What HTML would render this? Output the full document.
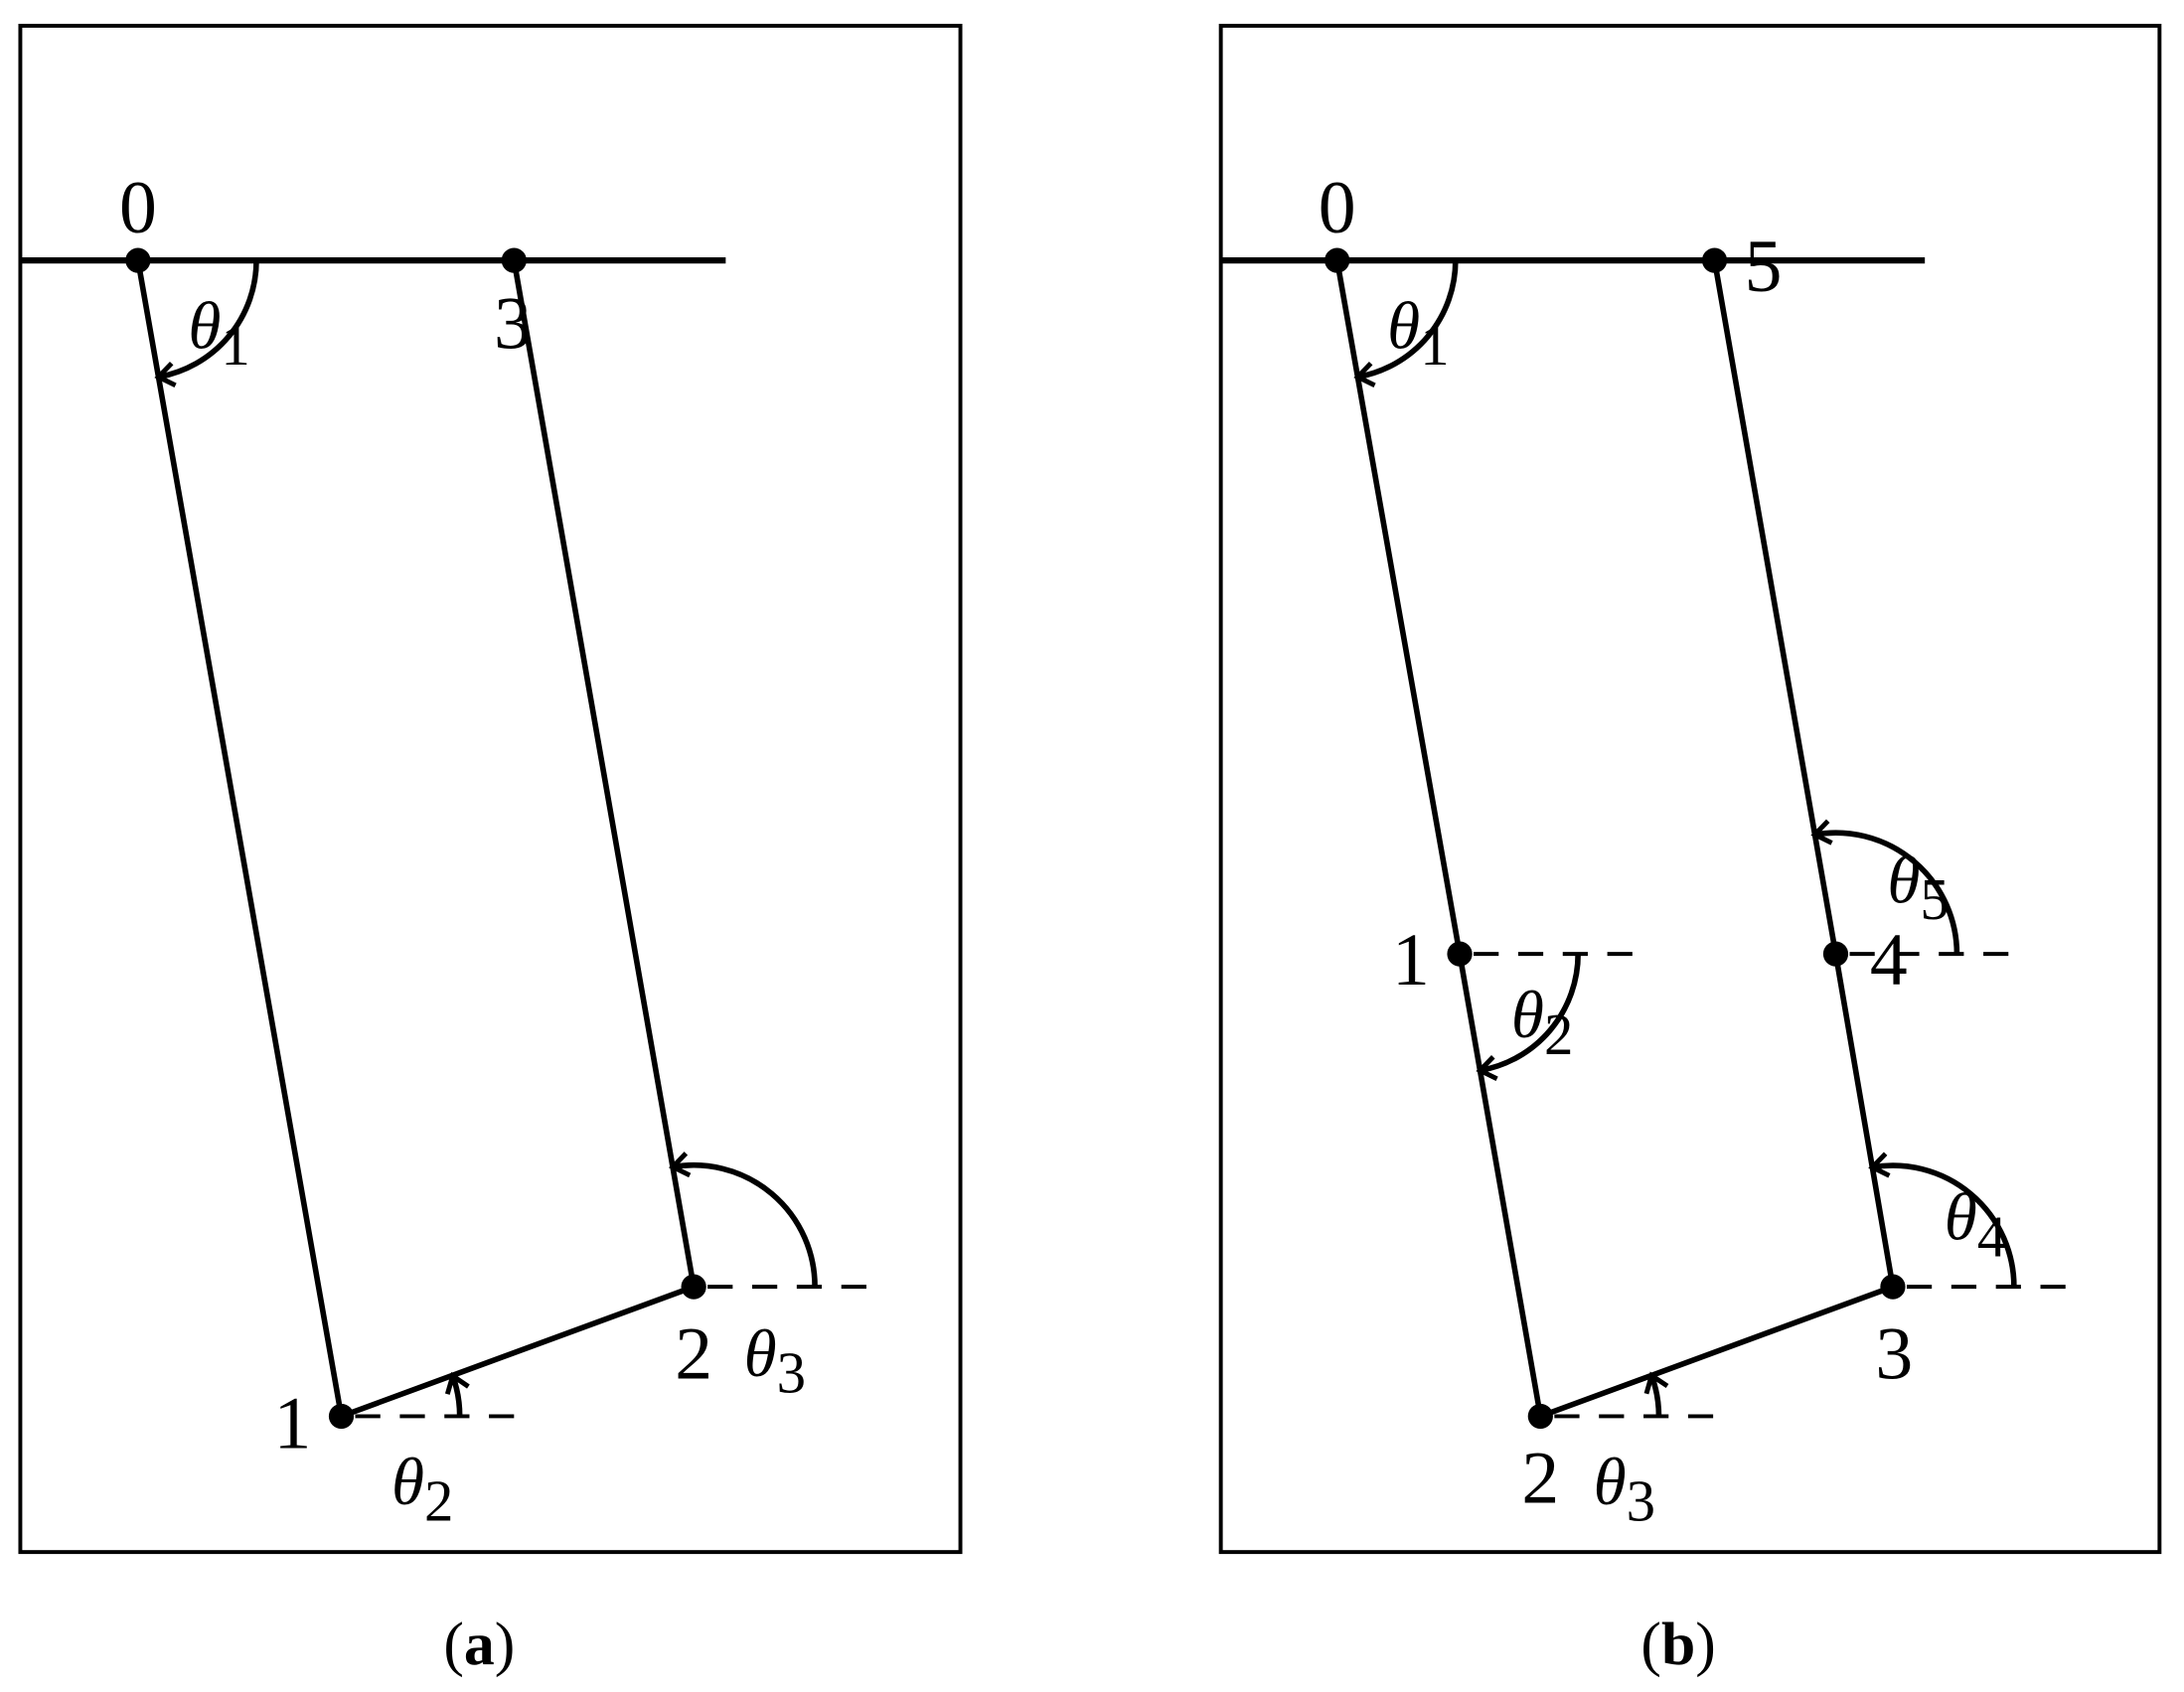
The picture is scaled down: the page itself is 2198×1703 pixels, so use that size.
<!DOCTYPE html>
<html><head><meta charset="utf-8"><style>html,body{margin:0;padding:0;background:#fff}svg{display:block}</style></head><body>
<svg width="2198" height="1703" viewBox="0 0 1568 1215" xmlns="http://www.w3.org/2000/svg" font-family="Liberation Serif, serif">
<defs><marker id="ar" markerUnits="userSpaceOnUse" markerWidth="30" markerHeight="30" refX="0" refY="0" viewBox="-15 -15 30 30" orient="auto"><path d="M-11,-8 L0,0 L-11,8" fill="none" stroke="#000" stroke-width="3.5"/></marker></defs>
<g fill="none" stroke="#000" stroke-width="2.8">
<rect x="14.5" y="18.5" width="675" height="1096"/>
<rect x="876.5" y="18.5" width="674" height="1096"/>
</g>
<g fill="none" stroke="#000" stroke-width="4.5">
<line x1="14" y1="187" x2="521" y2="187"/>
<line x1="876" y1="187" x2="1382" y2="187"/>
</g>
<g fill="none" stroke="#000" stroke-width="4">
<polyline points="99,187 245,1017 498,924 369,187"/>
<polyline points="960,187 1048,685 1106,1017 1359,924 1318,685 1231,187"/>
</g>
<g stroke="#000" stroke-width="2.8" stroke-dasharray="18,14">
<line x1="255" y1="1017" x2="372" y2="1017"/>
<line x1="508" y1="924" x2="625" y2="924"/>
<line x1="1058" y1="685" x2="1185" y2="685"/>
<line x1="1328" y1="685" x2="1447" y2="685"/>
<line x1="1116" y1="1017" x2="1232" y2="1017"/>
<line x1="1369" y1="924" x2="1487" y2="924"/>
</g>
<g fill="none" stroke="#000" stroke-width="4" marker-end="url(#ar)">
<path d="M184,187 A85,85 0 0 1 113.7,270.7"/>
<path d="M585,924 A87,87 0 0 0 483,838"/>
<path d="M330,1017 A85,85 0 0 0 325,988"/>
<path d="M1045,187 A85,85 0 0 1 974.8,270.7"/>
<path d="M1133,685 A85,85 0 0 1 1062.6,768.7"/>
<path d="M1191,1017 A85,85 0 0 0 1185.8,987.7"/>
<path d="M1446,924 A87,87 0 0 0 1344.3,838.2"/>
<path d="M1405,685 A87,87 0 0 0 1303,599.3"/>
</g>
<g fill="#000">
<circle cx="99" cy="187" r="9"/><circle cx="369" cy="187" r="9"/><circle cx="245" cy="1017" r="9"/><circle cx="498" cy="924" r="9"/>
<circle cx="960" cy="187" r="9"/><circle cx="1231" cy="187" r="9"/><circle cx="1048" cy="685" r="9"/><circle cx="1106" cy="1017" r="9"/><circle cx="1359" cy="924" r="9"/><circle cx="1318" cy="685" r="9"/>
</g>
<g fill="#000" font-size="54" text-anchor="middle">
<text x="99" y="167">0</text>
<text x="368" y="250">3</text>
<text x="210" y="1040">1</text>
<text x="498" y="990">2</text>
<text x="960" y="167">0</text>
<text x="1266" y="209">5</text>
<text x="1013" y="707">1</text>
<text x="1356" y="707">4</text>
<text x="1360" y="990">3</text>
<text x="1106" y="1079">2</text>
<g font-size="48" text-anchor="start">
<text x="135" y="250"><tspan font-style="italic">θ</tspan><tspan font-size="42" dy="12">1</tspan></text>
<text x="534" y="988"><tspan font-style="italic">θ</tspan><tspan font-size="42" dy="12">3</tspan></text>
<text x="281" y="1080"><tspan font-style="italic">θ</tspan><tspan font-size="42" dy="12">2</tspan></text>
<text x="996" y="250"><tspan font-style="italic">θ</tspan><tspan font-size="42" dy="12">1</tspan></text>
<text x="1085" y="745"><tspan font-style="italic">θ</tspan><tspan font-size="42" dy="12">2</tspan></text>
<text x="1144" y="1080"><tspan font-style="italic">θ</tspan><tspan font-size="42" dy="12">3</tspan></text>
<text x="1396" y="890"><tspan font-style="italic">θ</tspan><tspan font-size="42" dy="12">4</tspan></text>
<text x="1355" y="648"><tspan font-style="italic">θ</tspan><tspan font-size="42" dy="12">5</tspan></text>
</g>
<text x="344" y="1195" font-size="44">(<tspan font-weight="bold">a</tspan>)</text>
<text x="1205" y="1195" font-size="44">(<tspan font-weight="bold">b</tspan>)</text>
</g>
</svg>
</body></html>
